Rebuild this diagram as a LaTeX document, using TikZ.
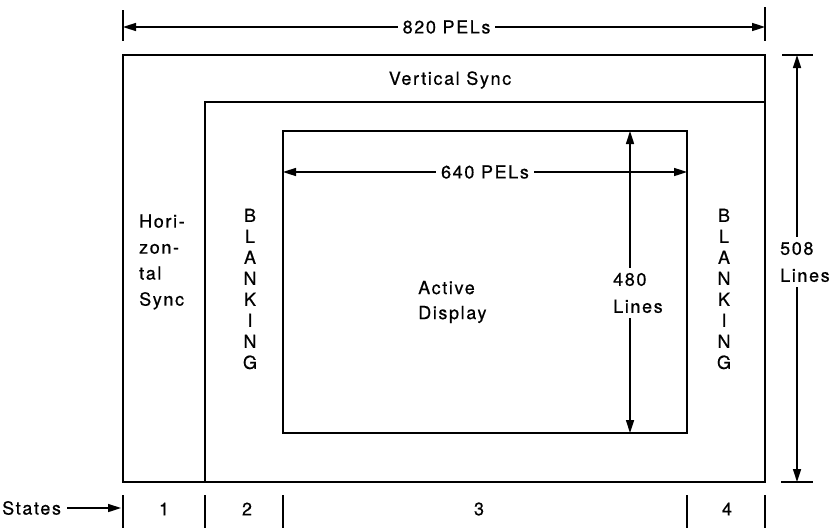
\documentclass[tikz,border=0pt]{standalone}
\usepackage{fontspec}
\setmainfont{TeX Gyre Heros}[LetterSpace=9,FakeBold=0.6]
\usetikzlibrary{arrows.meta}
\begin{document}
\begin{tikzpicture}[x=1pt,y=-1pt,
  box/.style={line width=1.5pt},
  tickmark/.style={line width=2.6pt},
  dim/.style={line width=1.6pt,{Triangle[length=13pt,width=8pt]}-{Triangle[length=13pt,width=8pt]}},
  onearrow/.style={line width=1.6pt,-{Triangle[length=13pt,width=8pt]}},
  lbl/.style={font=\fontsize{18}{21}\selectfont,inner sep=1pt},
  gaplbl/.style={lbl,fill=white,inner xsep=5pt,inner ysep=3pt,align=center},
  vert/.style={lbl,align=center,font=\fontsize{18}{21}\selectfont}
]
\useasboundingbox (0,0) rectangle (837,530);
% boxes
\draw[box] (123,55) rectangle (765,482);
\draw[box] (205,482) -- (205,102) -- (765,102);
\draw[box] (283,131) rectangle (687,433);
% top dimension
\coordinate (tl) at (123,27);
\coordinate (tr) at (765,27);
\draw[tickmark] (123,10) -- (123,41);
\draw[tickmark] (765,7) -- (765,41);
\draw[dim] (tl) -- (tr) node[gaplbl,pos=0.504] (w820) {820 PELs};
% 640
\coordinate (al) at (283,172);
\coordinate (ar) at (687,172);
\draw[dim] (al) -- (ar) node[gaplbl,pos=0.5] (w640) {640 PELs};
% 480
\coordinate (at) at (630,131);
\coordinate (ab) at (630,433);
\draw[dim] (at) -- (ab);
\node[gaplbl,inner xsep=1pt,inner ysep=5pt,align=left,anchor=west,font=\fontsize{18}{27}\selectfont] (h480) at (612,293) {480\\Lines};
% 508
\coordinate (ot) at (797,55);
\coordinate (ob) at (797,482);
\draw[box] (782,55) -- (813,55);
\draw[box] (781,482) -- (813,482);
\draw[dim] (ot) -- (ob);
\node[gaplbl,inner xsep=1pt,inner ysep=5pt,align=left,anchor=west,font=\fontsize{18}{27}\selectfont] (h508) at (779,262) {508\\Lines};
% labels
\node[lbl] (vs) at (450,80) {Vertical Sync};
\node[lbl,align=left,anchor=west,font=\fontsize{18}{26}\selectfont] (hs) at (138,262) {Hori-\\zon-\\tal\\Sync};
\node[vert] (bl) at (250,289) {B\\L\\A\\N\\K\\I\\N\\G};
\node[vert] (br) at (724,289) {B\\L\\A\\N\\K\\I\\N\\G};
\node[lbl,align=left,anchor=west,font=\fontsize{18}{25}\selectfont] (ad) at (417,302) {Active\\Display};
% states
\foreach \x in {123,205,283,687,765} \draw[tickmark] (\x,495) -- (\x,528);
\node[lbl,anchor=west] (st) at (1,508) {States};
\coordinate (sa) at (121,508);
\draw[onearrow] (st.east) ++(5,0) -- (sa);
\node[lbl] (s1) at (164,509) {1};
\node[lbl] (s2) at (247,509) {2};
\node[lbl] (s3) at (479,509) {3};
\node[lbl] (s4) at (727,509) {4};
\end{tikzpicture}
\end{document}
